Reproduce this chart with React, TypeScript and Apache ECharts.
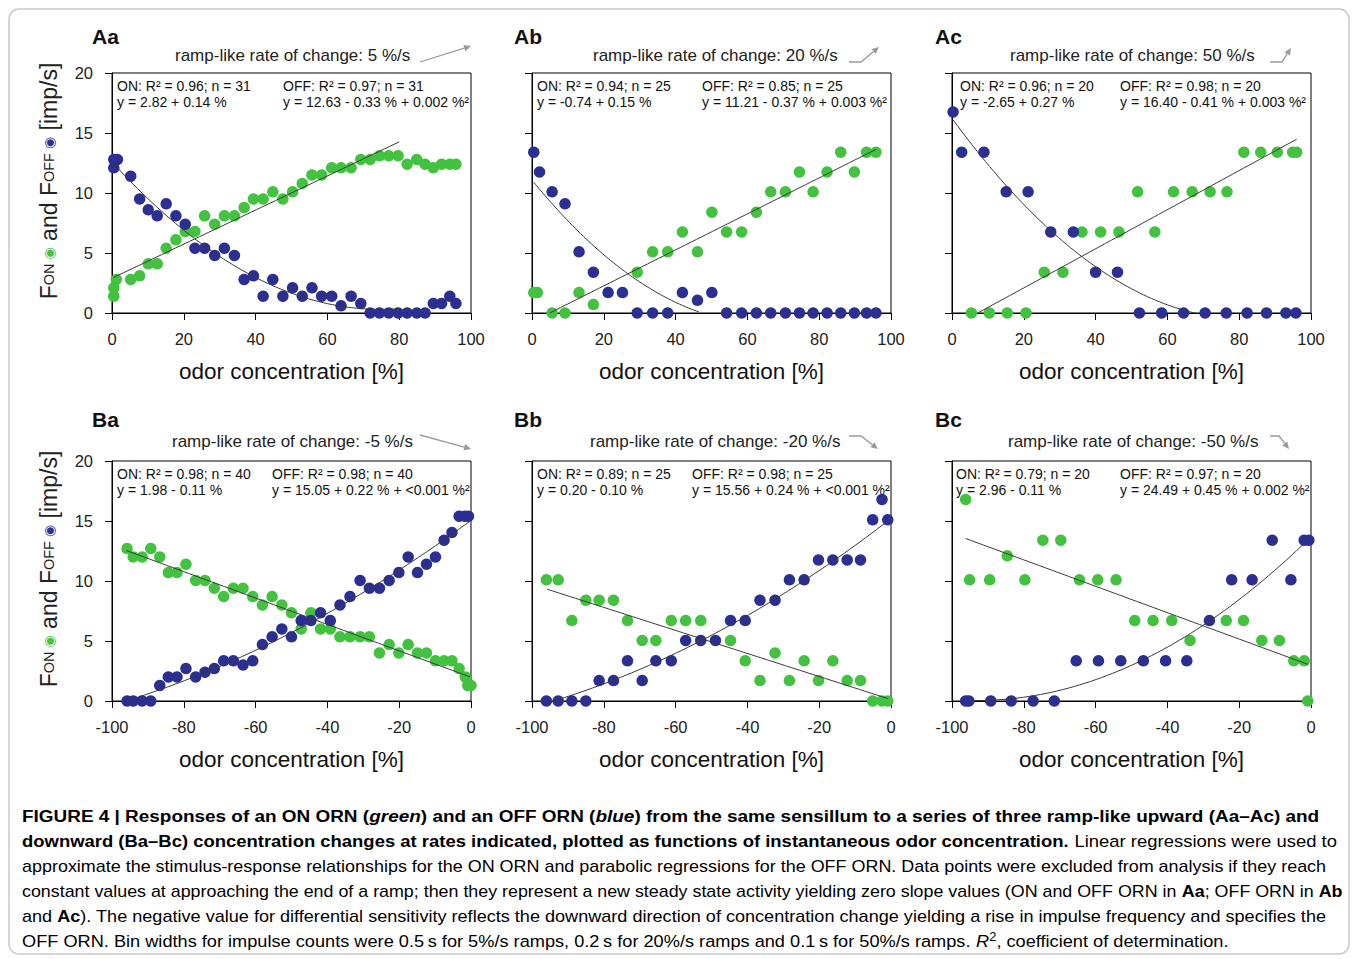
import React, { useEffect, useRef } from 'react';
import * as echarts from 'echarts';

const GREEN = '#42c23f';
const BLUE = '#2b2f92';
const FONT = '"Liberation Sans", Arial, Helvetica, sans-serif';

// ---------- data ----------
const aaOn = [[0.5,2.1],[0.5,1.4],[1.2,2.8],[5.2,2.8],[7.7,3.1],[10.1,4.1],[12.6,4.1],[15.1,5.4],[17.8,6.1],[20.4,6.8],[23.1,6.8],[25.8,8.1],[28.6,7.4],[31.3,8.1],[34.1,8.1],[36.8,8.8],[39.4,9.5],[42.1,9.5],[44.8,10.1],[47.6,9.5],[50.3,10.1],[53.0,10.8],[55.7,11.5],[58.4,11.5],[61.2,12.1],[63.8,12.1],[66.6,12.1],[69.3,12.8],[71.9,12.8],[74.5,13.1],[77.1,13.1],[79.7,13.1],[82.2,12.4],[84.9,12.8],[87.2,12.4],[89.5,12.1],[91.8,12.4],[94.1,12.4],[95.8,12.4]];
const aaOff = [[0.5,12.8],[1.5,12.8],[0.5,12.1],[5.2,11.4],[7.7,9.5],[10.1,8.6],[12.6,8.1],[15.1,9.1],[17.8,8.1],[20.4,7.4],[23.1,5.4],[25.8,5.4],[28.6,4.8],[31.3,5.4],[34.1,4.8],[36.8,2.8],[39.4,3.1],[42.1,1.4],[44.8,2.8],[47.6,1.4],[50.3,2.1],[53.0,1.4],[55.7,2.1],[58.4,1.4],[61.2,1.4],[63.8,0.6],[66.6,1.4],[69.3,0.8],[71.9,0],[74.5,0],[77.1,0],[79.7,0],[82.2,0],[84.9,0],[87.2,0],[89.5,0.8],[91.8,0.8],[94.1,1.4],[95.8,0.8]];
const abOn = [[0.5,1.7],[1.5,1.7],[5.6,0],[9.2,0],[13.1,1.7],[17.1,0.7],[29.3,3.4],[33.6,5.1],[37.8,5.1],[41.9,6.75],[46.1,5.1],[50.1,8.4],[54.2,6.75],[58.4,6.75],[62.5,8.4],[66.5,10.1],[70.6,10.1],[74.5,11.75],[78.3,10.1],[82.2,11.75],[86.0,13.4],[89.8,11.75],[93.2,13.4],[95.8,13.4]];
const abOff = [[0.5,13.4],[2.1,11.75],[5.6,10.1],[9.2,9.1],[13.1,5.1],[17.1,3.4],[21.2,1.7],[25.2,1.7],[29.3,0],[33.6,0],[37.8,0],[41.9,1.7],[46.1,1.06],[50.1,1.7],[54.2,0],[58.4,0],[62.5,0],[66.5,0],[70.6,0],[74.5,0],[78.3,0],[82.2,0],[86.0,0],[89.8,0],[93.2,0],[95.8,0]];
const acOn = [[5.4,0],[10.4,0],[15.4,0],[20.6,0],[25.7,3.4],[30.9,3.4],[36.2,6.75],[41.4,6.75],[46.5,6.75],[51.7,10.1],[56.5,6.75],[61.7,10.1],[66.9,10.1],[71.9,10.1],[76.6,10.1],[81.3,13.4],[86.0,13.4],[90.6,13.4],[94.9,13.4],[96.0,13.4]];
const acOff = [[0.3,16.75],[2.7,13.4],[8.9,13.4],[15.1,10.1],[21.2,10.1],[27.5,6.75],[33.8,6.75],[40.0,3.4],[46.1,3.4],[52.2,0],[58.4,0],[64.5,0],[70.5,0],[76.4,0],[82.2,0],[87.6,0],[93.0,0],[95.8,0]];
const baOn = [[-95.8,12.7],[-94.1,12.0],[-91.6,12.0],[-89.2,12.7],[-86.7,12.0],[-84.3,10.7],[-81.9,10.7],[-79.4,11.4],[-76.7,10.05],[-74.1,10.05],[-71.5,9.4],[-68.9,8.7],[-66.2,9.4],[-63.5,9.4],[-60.8,8.7],[-58.1,8.0],[-55.4,8.7],[-52.7,8.0],[-50.0,7.35],[-47.3,6.0],[-44.6,7.35],[-41.9,6.0],[-39.2,6.0],[-36.5,5.35],[-33.7,5.35],[-30.9,5.35],[-28.3,5.35],[-25.5,4.0],[-22.8,4.7],[-20.1,4.0],[-17.5,4.7],[-14.9,4.0],[-12.4,4.0],[-9.9,3.35],[-7.5,3.35],[-5.3,3.35],[-3.3,2.7],[-1.6,2.0],[-0.9,1.3],[0,1.3]];
const baOff = [[-95.8,0],[-94.1,0],[-91.6,0],[-89.2,0],[-86.7,1.3],[-84.3,2.0],[-81.9,2.0],[-79.4,2.7],[-76.7,2.0],[-74.1,2.4],[-71.5,2.7],[-68.9,3.35],[-66.2,3.35],[-63.5,3.0],[-60.8,3.35],[-58.1,4.7],[-55.4,5.35],[-52.7,6.0],[-50.0,5.35],[-47.3,6.7],[-44.6,6.7],[-41.9,7.35],[-39.2,6.7],[-36.5,8.0],[-33.7,8.7],[-30.9,10.05],[-28.3,9.4],[-25.5,9.4],[-22.8,10.05],[-20.1,10.7],[-17.5,12.0],[-14.9,10.7],[-12.4,11.4],[-9.9,12.0],[-7.5,13.4],[-5.3,14.05],[-3.3,15.4],[-1.7,15.4],[-0.7,15.4]];
const bbOn = [[-96.0,10.1],[-92.7,10.1],[-88.9,6.7],[-85.0,8.4],[-81.3,8.4],[-77.3,8.4],[-73.4,6.7],[-69.3,5.05],[-65.5,5.05],[-61.2,6.7],[-57.2,6.7],[-53.0,6.7],[-44.7,5.05],[-40.6,3.35],[-36.5,1.7],[-32.3,4.0],[-28.3,1.7],[-24.2,3.35],[-20.2,1.7],[-16.2,3.35],[-12.2,1.7],[-8.5,1.7],[-5.1,0],[-2.5,0],[-0.9,0]];
const bbOff = [[-96.0,0],[-92.7,0],[-88.9,0],[-85.0,0],[-81.3,1.7],[-77.3,1.7],[-73.4,3.35],[-69.3,1.7],[-65.5,3.35],[-61.2,3.35],[-57.2,5.05],[-53.0,5.05],[-48.9,5.05],[-44.7,6.7],[-40.6,6.7],[-36.5,8.4],[-32.3,8.4],[-28.3,10.1],[-24.2,10.1],[-20.2,11.75],[-16.2,11.75],[-12.2,11.75],[-8.5,11.75],[-5.1,15.1],[-2.5,16.8],[-0.9,15.1]];
const bcOn = [[-96.2,16.8],[-95.1,10.1],[-89.5,10.1],[-84.6,12.1],[-79.7,10.1],[-74.7,13.4],[-69.7,13.4],[-64.5,10.1],[-59.4,10.1],[-54.3,10.1],[-49.1,6.7],[-44.0,6.7],[-38.8,6.7],[-33.7,5.05],[-23.6,6.7],[-18.8,6.7],[-13.7,5.05],[-8.8,5.05],[-4.8,3.35],[-1.9,3.35],[-0.9,0]];
const bcOff = [[-96.2,0],[-95.3,0],[-89.2,0],[-83.5,0],[-77.4,0],[-71.5,0],[-65.4,3.35],[-59.2,3.35],[-53.0,3.35],[-46.7,3.35],[-40.5,3.35],[-34.6,3.35],[-28.3,6.7],[-22.1,10.1],[-16.4,10.1],[-10.8,13.4],[-5.6,10.1],[-1.9,13.4],[-0.6,13.4]];

// regression curves as drawn: [c, b, a, xFrom, xTo]  (y = c + b*x + a*x^2)
const aaOnFit = [2.9, 0.142, 0, 0.5, 80];
const aaOffFit = [12.6, -0.329, 0.0022, 0.5, 80];
const abOnFit = [-0.74, 0.15, 0, 4.9, 95.8];
const abOffFit = [11.08, -0.368, 0.00283, 0.5, 46.5];
const acOnFit = [-1.17, 0.163, 0, 7.2, 96];
const acOffFit = [16.22, -0.409, 0.0025, 0.3, 68];
const baOnFit = [1.98, -0.11, 0, -96, -0.3];
const baOffFit = [15.05, 0.22, 0.00066, -95.8, -0.3];
const bbOnFit = [0.12, -0.096, 0, -95.8, -0.9];
const bbOffFit = [15.21, 0.2321, 0.000748, -94, -0.9];
const bcOnFit = [2.96, -0.11, 0, -96.2, -0.9];
const bcOffFit = [13.68, 0.2925, 0.001568, -94, -0.9];

const panelIds = ['Aa', 'Ab', 'Ac', 'Ba', 'Bb', 'Bc'];
const rates = ['5', '20', '50', '-5', '-20', '-50'];
const onStats = ['ON: R² = 0.96; n = 31', 'ON: R² = 0.94; n = 25', 'ON: R² = 0.96; n = 20', 'ON: R² = 0.98; n = 40', 'ON: R² = 0.89; n = 25', 'ON: R² = 0.79; n = 20'];
const onEqs = ['y = 2.82 + 0.14 %', 'y = -0.74 + 0.15 %', 'y = -2.65 + 0.27 %', 'y = 1.98 - 0.11 %', 'y = 0.20 - 0.10 %', 'y = 2.96 - 0.11 %'];
const offStats = ['OFF: R² = 0.97; n = 31', 'OFF: R² = 0.85; n = 25', 'OFF: R² = 0.98; n = 20', 'OFF: R² = 0.98; n = 40', 'OFF: R² = 0.98; n = 25', 'OFF: R² = 0.97; n = 20'];
const offEqs = ['y = 12.63 - 0.33 % + 0.002 %²', 'y = 11.21 - 0.37 % + 0.003 %²', 'y = 16.40 - 0.41 % + 0.003 %²', 'y = 15.05 + 0.22 % + <0.001 %²', 'y = 15.56 + 0.24 % + <0.001 %²', 'y = 24.49 + 0.45 % + 0.002 %²'];
const xRangeUp = [0, 100];
const xRangeDown = [-100, 0];
const yRange = [0, 20];
const xStep = 20;
const yStep = 5;
const xName = 'odor concentration [%]';

const captionLines = [
  [['b', 'FIGURE 4 | Responses of an ON ORN ('], ['bi', 'green'], ['b', ') and an OFF ORN ('], ['bi', 'blue'], ['b', ') from the same sensillum to a series of three ramp-like upward (Aa–Ac) and']],
  [['b', 'downward (Ba–Bc) concentration changes at rates indicated, plotted as functions of instantaneous odor concentration.'], ['n', ' Linear regressions were used to']],
  [['n', 'approximate the stimulus-response relationships for the ON ORN and parabolic regressions for the OFF ORN. Data points were excluded from analysis if they reach']],
  [['n', 'constant values at approaching the end of a ramp; then they represent a new steady state activity yielding zero slope values (ON and OFF ORN in '], ['nb', 'Aa'], ['n', '; OFF ORN in '], ['nb', 'Ab']],
  [['n', 'and '], ['nb', 'Ac'], ['n', '). The negative value for differential sensitivity reflects the downward direction of concentration change yielding a rise in impulse frequency and specifies the']],
  [['n', 'OFF ORN. Bin widths for impulse counts were 0.5\u2009s for 5%/s ramps, 0.2\u2009s for 20%/s ramps and 0.1\u2009s for 50%/s ramps. '], ['ni', 'R'], ['sup', '2'], ['n', ', coefficient of determination.']],
];

// ---------- layout ----------
const colLeft = [112, 532, 952];
const rowTop = [73, 461];
const PW = 359;
const PH = 240;
const onTextDx = [5, 5, 8, 5, 5, 4];
const offTextDx = [171, 170, 168, 160, 160, 168];
const subLeft = [175, 593, 1010, 172, 590, 1008];
const labelLeft = [92, 514, 935];
const arrowPts = [
  [[420, 62], [471, 46]],
  [[849, 62], [861, 62], [879, 47]],
  [[1270, 62], [1282, 62], [1291, 48]],
  [[420, 435], [471, 449]],
  [[849, 436], [861, 436], [878, 449]],
  [[1270, 436], [1279, 436], [1289, 449]],
];
const captionLeft = 22;
const captionRight = [1320, 1337, 1327, 1342, 1327, 1229];
const captionTop = 816;
const captionStep = 25;
const CAP_SIZE = 17;

function fitCurve(f: number[]) {
  const [c, b, a, x0, x1] = f;
  const pts: number[][] = [];
  for (let i = 0; i <= 60; i++) {
    const x = x0 + ((x1 - x0) * i) / 60;
    pts.push([x, c + b * x + a * x * x]);
  }
  return pts;
}

const capStyles: Record<string, any> = {
  b: { fontWeight: 'bold', fontStyle: 'normal', color: '#1a1a1a', size: CAP_SIZE },
  bi: { fontWeight: 'bold', fontStyle: 'italic', color: '#1a1a1a', size: CAP_SIZE },
  n: { fontWeight: 'normal', fontStyle: 'normal', color: '#4a4a4a', size: CAP_SIZE },
  nb: { fontWeight: 'bold', fontStyle: 'normal', color: '#1a1a1a', size: CAP_SIZE },
  ni: { fontWeight: 'normal', fontStyle: 'italic', color: '#4a4a4a', size: CAP_SIZE },
  sup: { fontWeight: 'normal', fontStyle: 'normal', color: '#4a4a4a', size: 12 },
};

export default function App() {
  const ref = useRef<HTMLDivElement>(null);
  useEffect(() => {
    document.body.style.margin = '0';
    if (!ref.current) return;
    const chart = echarts.init(ref.current, null, { renderer: 'svg' });

    const ons = [aaOn, abOn, acOn, baOn, bbOn, bcOn];
    const offs = [aaOff, abOff, acOff, baOff, bbOff, bcOff];
    const onFits = [aaOnFit, abOnFit, acOnFit, baOnFit, bbOnFit, bcOnFit];
    const offFits = [aaOffFit, abOffFit, acOffFit, baOffFit, bbOffFit, bcOffFit];

    const grids: any[] = [];
    const xAxes: any[] = [];
    const yAxes: any[] = [];
    const series: any[] = [];
    const graphics: any[] = [];

    for (let i = 0; i < 6; i++) {
      const col = i % 3;
      const row = Math.floor(i / 3);
      const left = colLeft[col];
      const top = rowTop[row];
      grids.push({ left, top, width: PW, height: PH, show: true, borderColor: '#000', borderWidth: 1, backgroundColor: 'transparent' });
      const xr = row === 0 ? xRangeUp : xRangeDown;
      xAxes.push({
        gridIndex: i, type: 'value', min: xr[0], max: xr[1], interval: xStep,
        axisLine: { show: true, onZero: false, lineStyle: { color: '#000', width: 1 } },
        axisTick: { show: true, inside: false, length: 7, lineStyle: { color: '#000', width: 1 } },
        axisLabel: { fontSize: 16.5, color: '#222', margin: 17, fontFamily: FONT },
        splitLine: { show: false },
        name: xName, nameLocation: 'middle', nameGap: 47,
        nameTextStyle: { fontSize: 22.5, color: '#111', fontFamily: FONT },
      });
      yAxes.push({
        gridIndex: i, type: 'value', min: yRange[0], max: yRange[1], interval: yStep,
        axisLine: { show: true, onZero: false, lineStyle: { color: '#000', width: 1 } },
        axisTick: { show: true, inside: false, length: 7, lineStyle: { color: '#000', width: 1 } },
        axisLabel: { show: col === 0, fontSize: 16.5, color: '#222', margin: 19, fontFamily: FONT },
        splitLine: { show: false },
        name: col === 0 ? '{f|F}{s|ON }{g|◉}{f| and F}{s|OFF }{u|◉}{f| [imp/s]}' : '',
        nameLocation: 'middle', nameGap: 52,
        nameTextStyle: {
          padding: [0, 0, 0, 24],
          rich: {
            f: { fontSize: 23, fontFamily: FONT, color: '#222' },
            s: { fontSize: 14.5, fontFamily: FONT, color: '#222' },
            g: { fontSize: 14, fontFamily: 'DejaVu Sans', color: GREEN },
            u: { fontSize: 14, fontFamily: 'DejaVu Sans', color: BLUE },
          },
        },
      });
      series.push({ type: 'scatter', xAxisIndex: i, yAxisIndex: i, data: ons[i], symbolSize: 11.5, itemStyle: { color: GREEN, opacity: 1 }, clip: false, z: 2, silent: true });
      series.push({ type: 'scatter', xAxisIndex: i, yAxisIndex: i, data: offs[i], symbolSize: 11.5, itemStyle: { color: BLUE, opacity: 1 }, clip: false, z: 2, silent: true });
      series.push({ type: 'line', xAxisIndex: i, yAxisIndex: i, data: fitCurve(onFits[i]), showSymbol: false, lineStyle: { color: '#3a3a3a', width: 1 }, z: 3, silent: true });
      series.push({ type: 'line', xAxisIndex: i, yAxisIndex: i, data: fitCurve(offFits[i]), showSymbol: false, lineStyle: { color: '#3a3a3a', width: 1 }, z: 3, silent: true });

      // panel label + subtitle
      const labY = row === 0 ? 36 : 419;
      const subY = row === 0 ? 55 : 441;
      graphics.push({ type: 'text', x: labelLeft[col], y: labY, style: { text: panelIds[i], fontSize: 21, fontWeight: 'bold', fontFamily: FONT, fill: '#111', verticalAlign: 'middle' } });
      graphics.push({ type: 'text', x: subLeft[i], y: subY, style: { text: `ramp-like rate of change: ${rates[i]} %/s`, fontSize: 17, fontFamily: FONT, fill: '#222', verticalAlign: 'middle' } });

      // stats text
      const t1 = top + 13;
      const t2 = top + 29;
      const ts = { fontSize: 14, fontFamily: FONT, fill: '#111', verticalAlign: 'middle' };
      graphics.push({ type: 'text', x: left + onTextDx[i], y: t1, style: { ...ts, text: onStats[i] } });
      graphics.push({ type: 'text', x: left + onTextDx[i], y: t2, style: { ...ts, text: onEqs[i] } });
      graphics.push({ type: 'text', x: left + offTextDx[i], y: t1, style: { ...ts, text: offStats[i] } });
      graphics.push({ type: 'text', x: left + offTextDx[i], y: t2, style: { ...ts, text: offEqs[i] } });

      // ramp arrow
      const pts = arrowPts[i];
      const tip = pts[pts.length - 1];
      const prev = pts[pts.length - 2];
      const dx = tip[0] - prev[0];
      const dy = tip[1] - prev[1];
      const len = Math.sqrt(dx * dx + dy * dy);
      const ux = dx / len;
      const uy = dy / len;
      const bx = tip[0] - ux * 7;
      const by = tip[1] - uy * 7;
      const lp = pts.slice(0, -1).concat([[bx, by]]);
      graphics.push({ type: 'polyline', shape: { points: lp }, style: { stroke: '#999', lineWidth: 1.3, fill: 'none' } });
      graphics.push({ type: 'polygon', shape: { points: [tip, [bx - uy * 3.2, by + ux * 3.2], [bx + uy * 3.2, by - ux * 3.2]] }, style: { fill: '#999', stroke: 'none' } });
    }

    // caption
    const canvas = document.createElement('canvas');
    const ctx = canvas.getContext('2d') as CanvasRenderingContext2D;
    const rich: Record<string, any> = {};
    Object.keys(capStyles).forEach((k) => {
      const s = capStyles[k];
      rich[k] = {
        fontSize: s.size, fontWeight: s.fontWeight, fontStyle: s.fontStyle, fontFamily: FONT,
        color: s.color, lineHeight: k === 'sup' ? 12 : 20, verticalAlign: k === 'sup' ? 'top' : 'middle',
      };
    });
    captionLines.forEach((segs, li) => {
      let w = 0;
      segs.forEach(([k, t]) => {
        const s = capStyles[k];
        ctx.font = `${s.fontStyle} ${s.fontWeight} ${s.size}px ${FONT}`;
        w += ctx.measureText(t).width;
      });
      const target = captionRight[li] - captionLeft;
      const sx = w > 0 ? target / w : 1;
      const text = segs.map(([k, t]) => `{${k}|${t}}`).join('');
      graphics.push({
        type: 'text', x: captionLeft, y: captionTop + li * captionStep, scaleX: sx,
        style: { text, rich, verticalAlign: 'middle', align: 'left' },
      });
    });

    graphics.push({ type: 'rect', shape: { x: 9, y: 9, width: 1340, height: 945, r: 10 }, style: { fill: 'none', stroke: '#c8c8c8', lineWidth: 1.5 }, silent: true });

    chart.setOption({
      animation: false,
      backgroundColor: '#fff',
      textStyle: { fontFamily: FONT },
      grid: grids,
      xAxis: xAxes,
      yAxis: yAxes,
      series,
      graphic: { elements: graphics },
    });
    return () => chart.dispose();
  }, []);
  return <div ref={ref} style={{ width: 1358, height: 959 }} />;
}
